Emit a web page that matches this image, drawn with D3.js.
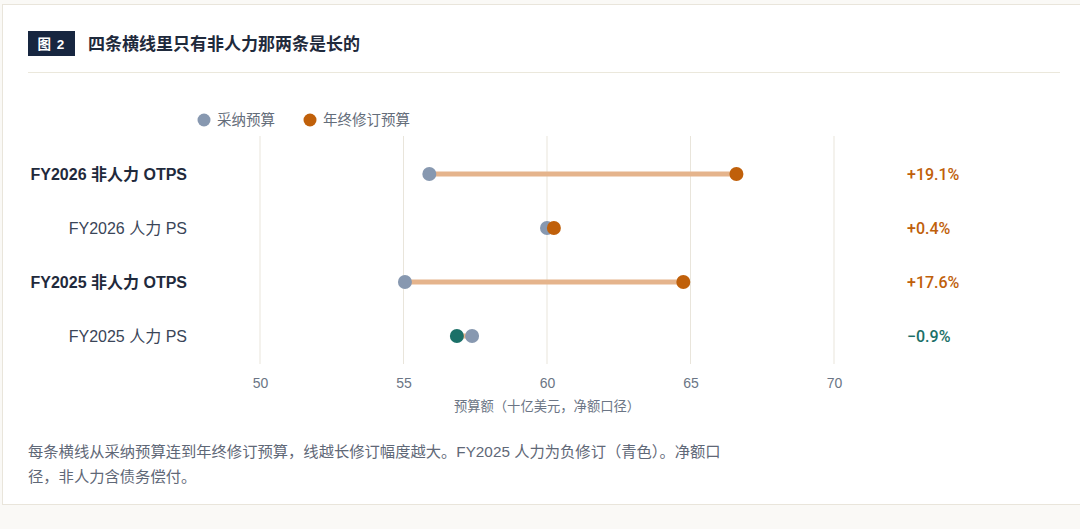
<!DOCTYPE html>
<html>
<head>
<meta charset="utf-8">
<script src="https://cdn.jsdelivr.net/npm/d3@7"></script>
<style>
  html, body { margin: 0; padding: 0; background: #faf9f6; }
  body { width: 1080px; height: 529px; overflow: hidden; }
  svg { display: block; }
</style>
</head>
<body>
<svg id="chart" width="1080" height="529"></svg>
<script>
// data
const rows = ["FY2026 非人力 OTPS", "FY2026 人力 PS", "FY2025 非人力 OTPS", "FY2025 人力 PS"];
const boldRows = ["FY2026 非人力 OTPS", "FY2025 非人力 OTPS"];
const adopted = [55.9, 60.0, 55.05, 57.39];
const revised = [66.6, 60.24, 64.75, 56.86];
const changeLabels = ["+19.1%", "+0.4%", "+17.6%", "\u22120.9%"];
const xTicks = [50, 55, 60, 65, 70];
const legendNames = ["采纳预算", "年终修订预算"];

const grey = "#8798b0", orange = "#c0600a", teal = "#1b7068";
const font = "'Liberation Sans', 'Noto Sans CJK SC', sans-serif";

const svg = d3.select("#chart");

// card
svg.append("rect")
  .attr("x", 2.5).attr("y", 4.5)
  .attr("width", 1100).attr("height", 500)
  .attr("fill", "#fff")
  .attr("stroke", "#e9e5db");

// title badge
svg.append("rect")
  .attr("x", 28).attr("y", 31).attr("width", 47).attr("height", 25)
  .attr("fill", "#172640");
svg.append("text")
  .attr("x", 51.5).attr("y", 48.5)
  .attr("text-anchor", "middle")
  .attr("fill", "#fff")
  .style("font", "bold 13.5px " + font)
  .style("letter-spacing", "1px")
  .text("图 2");
svg.append("text")
  .attr("x", 88).attr("y", 50)
  .attr("fill", "#1f2a3c")
  .style("font", "bold 17px " + font)
  .text("四条横线里只有非人力那两条是长的");
svg.append("line")
  .attr("x1", 28).attr("x2", 1060)
  .attr("y1", 72.5).attr("y2", 72.5)
  .attr("stroke", "#ebe8dc");

// legend
const legend = svg.append("g").selectAll("g")
  .data(legendNames)
  .enter()
  .append("g")
  .attr("transform", (d, i) => "translate(" + (i === 0 ? 204 : 310) + ",120)");
legend.append("circle").attr("r", 6.5).attr("fill", (d, i) => i === 0 ? grey : orange);
legend.append("text")
  .attr("x", 13).attr("y", 5)
  .attr("fill", "#646d7a")
  .style("font", "14.5px " + font)
  .text(d => d);

// scales
const x = d3.scaleLinear().domain([50, 70]).range([260, 834]);
const y = d3.scalePoint().domain(rows).range([174, 336]);

// grid
svg.append("g").selectAll("line")
  .data(xTicks)
  .enter()
  .append("line")
  .attr("x1", d => x(d)).attr("x2", d => x(d))
  .attr("y1", 136).attr("y2", 364)
  .attr("stroke", "#e9e5db");

// x axis labels
const xAxis = d3.axisBottom(x).tickValues(xTicks).tickSize(0).tickPadding(0);
svg.append("g")
  .attr("transform", "translate(0,378)")
  .call(xAxis)
  .call(g => g.select(".domain").remove())
  .call(g => g.selectAll("text")
    .attr("fill", "#6b7585")
    .style("font", "14px " + font));

svg.append("text")
  .attr("x", x(60)).attr("y", 411)
  .attr("text-anchor", "middle")
  .attr("fill", "#6b7585")
  .style("font", "13.3px " + font)
  .text("预算额（十亿美元，净额口径）");

// dumbbells
const data = rows.map((r, i) => ({ row: r, a: adopted[i], b: revised[i], label: changeLabels[i] }));

const g = svg.append("g").selectAll("g")
  .data(data)
  .enter()
  .append("g")
  .attr("transform", d => "translate(0," + y(d.row) + ")");

g.append("line")
  .attr("x1", d => x(d.a)).attr("x2", d => x(d.b))
  .attr("stroke", "#e5b48c")
  .attr("stroke-width", 5);

g.append("circle")
  .attr("cx", d => x(d.a))
  .attr("r", 7)
  .attr("fill", grey);

g.append("circle")
  .attr("cx", d => x(d.b))
  .attr("r", 7)
  .attr("fill", d => d.b < d.a ? teal : orange);

g.append("text")
  .attr("x", 187).attr("y", 5.5)
  .attr("text-anchor", "end")
  .attr("fill", d => boldRows.includes(d.row) ? "#1f2a3c" : "#3a4558")
  .style("font", d => (boldRows.includes(d.row) ? "bold " : "") + "16px " + font)
  .text(d => d.row);

g.append("text")
  .attr("x", 907).attr("y", 5.5)
  .attr("fill", d => d.b < d.a ? teal : orange)
  .style("font", "500 16px Roboto, " + font)
  .text(d => d.label);

// footnote
const note = ["每条横线从采纳预算连到年终修订预算，线越长修订幅度越大。FY2025 人力为负修订（青色）。净额口",
              "径，非人力含债务偿付。"];
svg.append("g").selectAll("text")
  .data(note)
  .enter()
  .append("text")
  .attr("x", 28).attr("y", (d, i) => 457 + i * 25)
  .attr("fill", "#5f6877")
  .style("font", "15.3px " + font)
  .text(d => d);
</script>
</body>
</html>
